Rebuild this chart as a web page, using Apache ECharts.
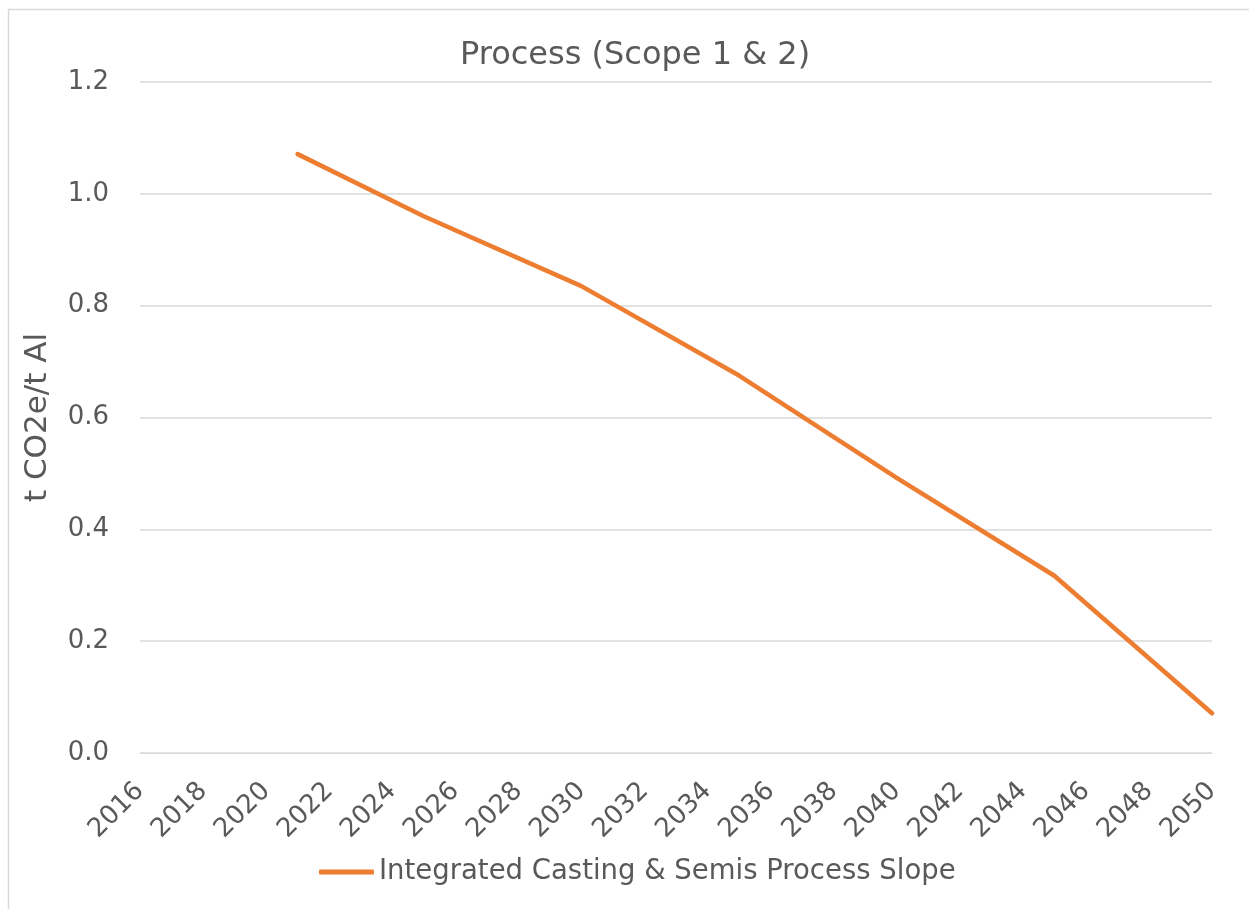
<!DOCTYPE html>
<html>
<head>
<meta charset="utf-8">
<title>Process (Scope 1 & 2)</title>
<script src="https://cdn.jsdelivr.net/npm/echarts@6/dist/echarts.min.js"></script>
<style>
  html, body { margin: 0; padding: 0; background: #fff; }
  #chart { width: 1249px; height: 909px; }
</style>
</head>
<body>
<div id="chart"></div>
<script>
// x categories (years)
const years = [
  '2016', '2017', '2018', '2019', '2020', '2021', '2022', '2023', '2024', '2025',
  '2026', '2027', '2028', '2029', '2030', '2031', '2032', '2033', '2034', '2035',
  '2036', '2037', '2038', '2039', '2040', '2041', '2042', '2043', '2044', '2045',
  '2046', '2047', '2048', '2049', '2050'
]
// t CO2e/t Al at the visible break points
const processSlope = [
  null, null, null, null, null, 1.071, null, null, null, 0.960,
  null, null, null, null, 0.835, null, null, null, null, 0.675,
  null, null, null, null, 0.492, null, null, null, null, 0.317,
  null, null, null, null, 0.071
]
const seriesName = 'Integrated Casting & Semis Process Slope'
const yTicks = { min: 0, max: 1.2, step: 0.2 }

const FONT = '"DejaVu Sans", sans-serif'
const TEXT = '#595959'
const GRID = '#d9d9d9'
const ORANGE = '#ED7D31'

const chart = echarts.init(document.getElementById('chart'))

const option = {
  backgroundColor: '#fff',
  animation: false,
  textStyle: { fontFamily: FONT, color: TEXT },
  title: {
    text: 'Process (Scope 1 & 2)',
    left: 455,
    top: 35,
    textStyle: { fontFamily: FONT, fontSize: 32, fontWeight: 'normal', color: TEXT }
  },
  // chart frame
  graphic: [{
    type: 'rect',
    shape: { x: 8.5, y: 9.5, width: 1400, height: 1000 },
    style: { fill: 'none', stroke: GRID, lineWidth: 1.5 },
    silent: true
  }],
  legend: {
    bottom: 18,
    left: 314,
    icon: 'roundRect',
    itemWidth: 55,
    itemHeight: 5,
    itemGap: 20,
    textStyle: { fontFamily: FONT, fontSize: 27.5, color: TEXT },
    data: [seriesName]
  },
  grid: {
    left: 140,
    top: 82,
    width: 1072,
    height: 671,
    outerBoundsMode: 'none'
  },
  xAxis: {
    type: 'category',
    data: years,
    boundaryGap: false,
    axisLine: { show: true, lineStyle: { color: GRID, width: 1 } },
    axisTick: { show: false },
    axisLabel: {
      interval: 1,
      rotate: 45,
      margin: 34,
      fontFamily: FONT,
      fontSize: 26,
      color: TEXT
    },
    splitLine: { show: false }
  },
  yAxis: {
    type: 'value',
    min: yTicks.min,
    max: yTicks.max,
    interval: yTicks.step,
    name: 't CO2e/t Al',
    nameLocation: 'middle',
    nameRotate: 90,
    nameGap: 87,
    nameTextStyle: { fontFamily: FONT, fontSize: 31, color: TEXT },
    axisLine: { show: false },
    axisTick: { show: false },
    axisLabel: {
      margin: 31,
      fontFamily: FONT,
      fontSize: 26,
      color: TEXT,
      formatter: v => v.toFixed(1)
    },
    splitLine: { lineStyle: { color: GRID, width: 1.5 } }
  },
  series: [{
    name: seriesName,
    type: 'line',
    data: processSlope,
    connectNulls: true,
    symbol: 'none',
    smooth: false,
    itemStyle: { color: ORANGE },
    lineStyle: { color: ORANGE, width: 4.5, cap: 'round', join: 'round' }
  }]
}

chart.setOption(option)
</script>
</body>
</html>
